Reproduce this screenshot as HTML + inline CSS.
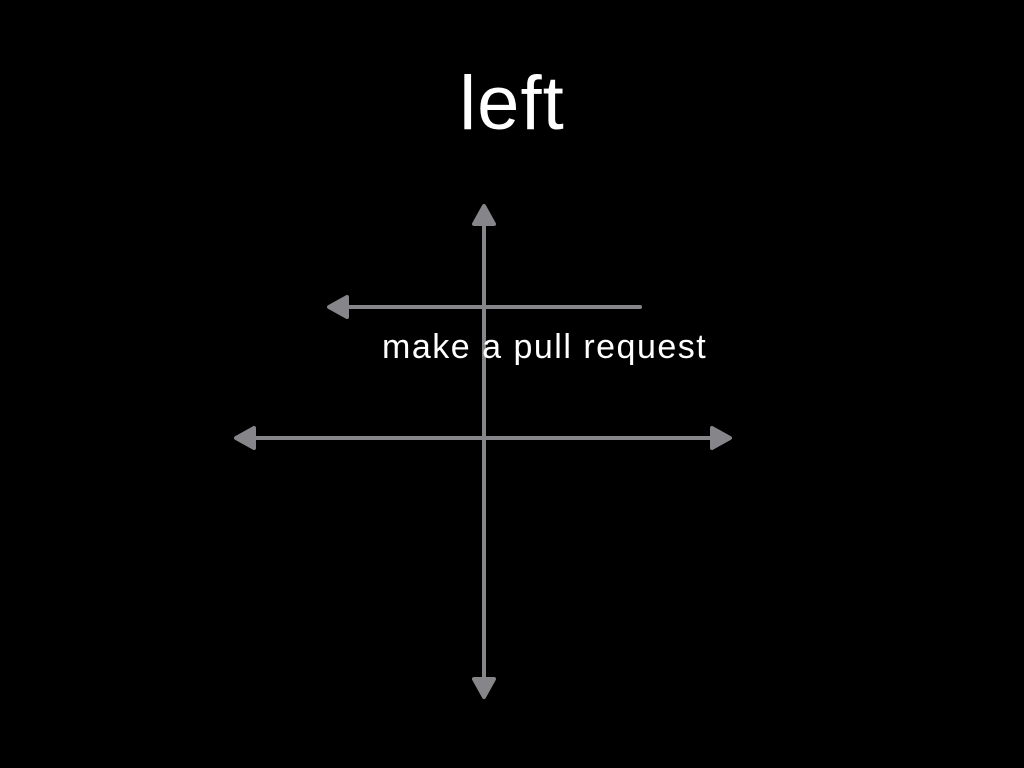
<!DOCTYPE html>
<html>
<head>
<meta charset="utf-8">
<style>
  html, body { margin: 0; padding: 0; background: #000; }
  body { width: 1024px; height: 768px; overflow: hidden; position: relative; font-family: "Liberation Sans", sans-serif; }
  .title { position: absolute; left: 0; width: 1024px; top: 60px; text-align: center; color: #fff; font-size: 76px; font-weight: 300; letter-spacing: 1px; }
  .label { position: absolute; left: 382px; top: 328px; color: #fff; font-size: 34px; letter-spacing: 1.5px; white-space: nowrap; }
  svg { position: absolute; left: 0; top: 0; }
</style>
</head>
<body>
<svg width="1024" height="768">
  <g stroke="#86868a" stroke-width="4" fill="#86868a" stroke-linecap="round" stroke-linejoin="round">
    <line x1="484" y1="212" x2="484" y2="690"/>
    <polygon points="484,206 474,224 494,224"/>
    <polygon points="484,697 474,679 494,679"/>
    <line x1="242" y1="438" x2="724" y2="438"/>
    <polygon points="236,438 254,428 254,448"/>
    <polygon points="730,438 712,428 712,448"/>
    <line x1="334" y1="307" x2="640" y2="307"/>
    <polygon points="329,307 347,297 347,317"/>
  </g>
</svg>
<div class="title">left</div>
<div class="label">make a pull request</div>
</body>
</html>
